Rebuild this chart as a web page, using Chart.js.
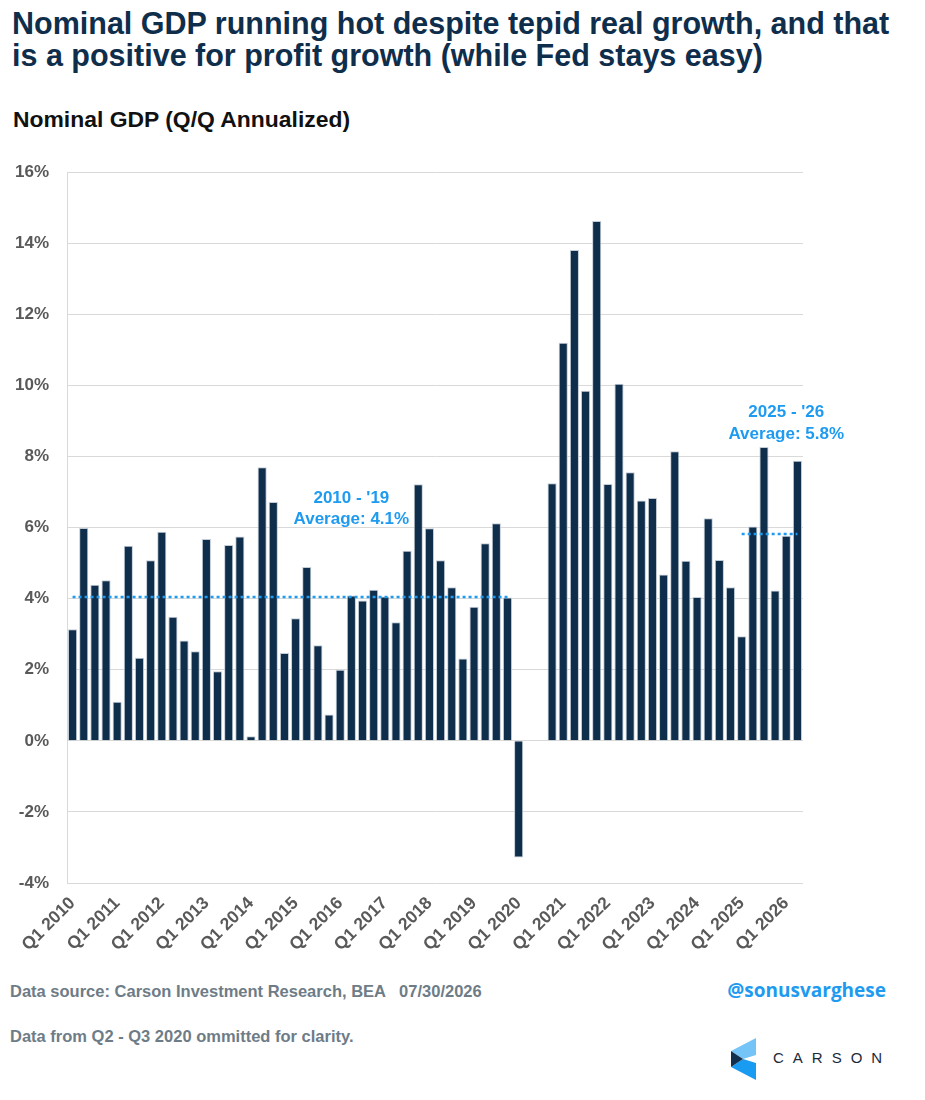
<!DOCTYPE html>
<html>
<head>
<meta charset="utf-8">
<script src="https://cdn.jsdelivr.net/npm/chart.js@4.4.1/dist/chart.umd.min.js"></script>
<style>
    body { margin: 0; background: #ffffff; font-family: "Liberation Sans", Arial, sans-serif; }
    #page { position: relative; width: 925px; height: 1100px; overflow: hidden; background: #ffffff; }
    .title { position: absolute; left: 12px; top: 7px; font-size: 30.5px; line-height: 32px; font-weight: bold; color: #0f2e4c; white-space: nowrap; }
    .subtitle { position: absolute; left: 13px; top: 106px; font-size: 22.9px; font-weight: bold; color: #111111; }
    .note { position: absolute; left: 10px; font-size: 16.5px; font-weight: bold; color: #6e7c87; white-space: pre; }
    .handle { position: absolute; right: 39px; top: 977px; font-family: "Open Sans", sans-serif; font-size: 19px; font-weight: bold; color: #1e9bf0; }
    .logo { position: absolute; left: 731px; top: 1038px; }
    .brand { position: absolute; left: 773px; top: 1049px; font-size: 15px; letter-spacing: 9px; color: #1b2a3a; }
    #wrap { position: absolute; left: 0; top: 144px; width: 870px; height: 808px; }
</style>
</head>
<body>
<div id="page">
    <div class="title">Nominal GDP running hot despite tepid real growth, and that<br>is a positive for profit growth (while Fed stays easy)</div>
    <div class="subtitle">Nominal GDP (Q/Q Annualized)</div>
    <div id="wrap"><canvas id="gdp"></canvas></div>
    <div class="note" style="top: 982px;">Data source: Carson Investment Research, BEA   07/30/2026</div>
    <div class="note" style="top: 1027px;">Data from Q2 - Q3 2020 ommitted for clarity.</div>
    <div class="handle">@sonusvarghese</div>
    <svg class="logo" width="26" height="42" viewBox="0 0 26 42">
        <polygon points="0,13 25,0 25,17 12,21" fill="#74c4f8"/>
        <polygon points="0,29 12,21 25,25 25,42" fill="#1a9bf2"/>
        <polygon points="0,13 12,21 0,29" fill="#12304d"/>
    </svg>
    <div class="brand">CARSON</div>
</div>

<script>
// quarters shown on the category axis
var years = [2010, 2011, 2012, 2013, 2014, 2015, 2016, 2017, 2018, 2019, 2020, 2021, 2022, 2023, 2024, 2025, 2026]
var quarters = ["Q1", "Q2", "Q3", "Q4"]
var lastQuarterCount = 2   // 2026 only has Q1 and Q2

// nominal GDP q/q annualized, %  (Q2/Q3 2020 left out on purpose)
var gdp2010s = [
    3.14, 5.99, 4.39, 4.52,
    1.10, 5.49, 2.34, 5.08,
    5.88, 3.49, 2.82, 2.52,
    5.68, 1.96, 5.51, 5.75,
    0.13, 7.70, 6.72, 2.47,
    3.45, 4.89, 2.69, 0.74,
    2.00, 4.09, 3.95, 4.25,
    4.06, 3.34, 5.35, 7.22,
    5.98, 5.08, 4.32, 2.32,
    3.77, 5.56, 6.12, 4.03
]
var gdp2020s = [
    -3.28, null, null, 7.25,
    11.20, 13.81, 9.85, 14.63,
    7.23, 10.05, 7.56, 6.76,
    6.83, 4.68, 8.15, 5.07,
    4.05, 6.26, 5.09, 4.32,
    2.94, 6.03, 8.27, 4.23,
    5.77, 7.88
]

// averages shown as dotted lines
var avgPre = 4.05
var avgPreRange = ["Q1 2010", "Q4 2019"]
var avgPost = 5.82
var avgPostRange = ["Q1 2025", "Q2 2026"]

var yTicks = [-4, -2, 0, 2, 4, 6, 8, 10, 12, 14, 16]

var navy = "#0e2e4b"
var blue = "#1e9bf0"
var grey = "#595959"

function GetLabels(){
    let labels = []
    years.forEach(function(year, i){
        let count = (i == years.length - 1) ? lastQuarterCount : 4
        for(let q = 0; q < count; q++){
            labels.push(quarters[q] + " " + year)
        }
    })
    return labels
}

function GetAverageLine(labels, value, range){
    let start = labels.indexOf(range[0])
    let end = labels.indexOf(range[1])
    return labels.map(function(l, i){
        return (i >= start && i <= end) ? value : null
    })
}

var labels = GetLabels()
var gdpValues = gdp2010s.concat(gdp2020s)

// text boxes next to the average lines
var notes = [
    { lines: ["2010 - '19", "Average: 4.1%"], at: "Q2 2016", values: [6.7, 6.1] },
    { lines: ["2025 - '26", "Average: 5.8%"], at: "Q1 2026", values: [9.1, 8.5] }
]

var notePlugin = {
    id: "notes",
    afterDatasetsDraw: function(chart){
        let ctx = chart.ctx
        let x = chart.scales.x
        let y = chart.scales.y
        ctx.save()
        ctx.font = "bold 17px 'Liberation Sans', Arial, sans-serif"
        ctx.fillStyle = blue
        ctx.textAlign = "center"
        ctx.textBaseline = "alphabetic"
        notes.forEach(function(n){
            let px = x.getPixelForValue(labels.indexOf(n.at))
            n.lines.forEach(function(line, i){
                ctx.fillText(line, px, y.getPixelForValue(n.values[i]))
            })
        })
        ctx.restore()
    }
}

var ctx = document.getElementById("gdp")

var chart = new Chart(ctx, {
    type: "bar",
    data: {
        labels: labels,
        datasets: [
            {
                type: "line",
                data: GetAverageLine(labels, avgPre, avgPreRange),
                borderColor: blue,
                borderWidth: 2.5,
                borderDash: [3, 3],
                pointRadius: 0,
                fill: false,
                order: 0
            },
            {
                type: "line",
                data: GetAverageLine(labels, avgPost, avgPostRange),
                borderColor: blue,
                borderWidth: 2.5,
                borderDash: [3, 3],
                pointRadius: 0,
                fill: false,
                order: 0
            },
            {
                label: "Nominal GDP",
                data: gdpValues,
                backgroundColor: navy,
                borderColor: "#c3ccd5",
                borderWidth: 1,
                categoryPercentage: 1,
                barPercentage: 0.82,
                order: 1
            }
        ]
    },
    options: {
        responsive: true,
        maintainAspectRatio: false,
        animation: false,
        layout: {
            padding: { top: 0, right: 67, left: 0, bottom: 0 }
        },
        plugins: {
            legend: { display: false },
            tooltip: { enabled: false }
        },
        scales: {
            x: {
                grid: { display: false, drawTicks: false },
                border: { display: false },
                afterFit: function(scale){ scale.height = 69 },
                ticks: {
                    autoSkip: false,
                    maxRotation: 45,
                    minRotation: 45,
                    padding: 10,
                    color: grey,
                    font: { family: "'Liberation Sans', Arial, sans-serif", size: 17.5, weight: "bold" },
                    callback: function(v, i){
                        return (i % 4 == 0) ? labels[i] : ""
                    }
                }
            },
            y: {
                min: yTicks[0],
                max: yTicks[yTicks.length - 1],
                afterFit: function(scale){ scale.width = 67 },
                afterBuildTicks: function(scale){
                    scale.ticks = yTicks.map(function(v){ return { value: v } })
                },
                grid: { color: "#d9d9d9", drawTicks: false, lineWidth: 1 },
                border: { display: true, color: "#d9d9d9" },
                ticks: {
                    padding: 18,
                    color: grey,
                    font: { family: "'Liberation Sans', Arial, sans-serif", size: 17, weight: "bold" },
                    callback: function(v){ return v + "%" }
                }
            }
        }
    },
    plugins: [notePlugin]
})
</script>
</body>
</html>
